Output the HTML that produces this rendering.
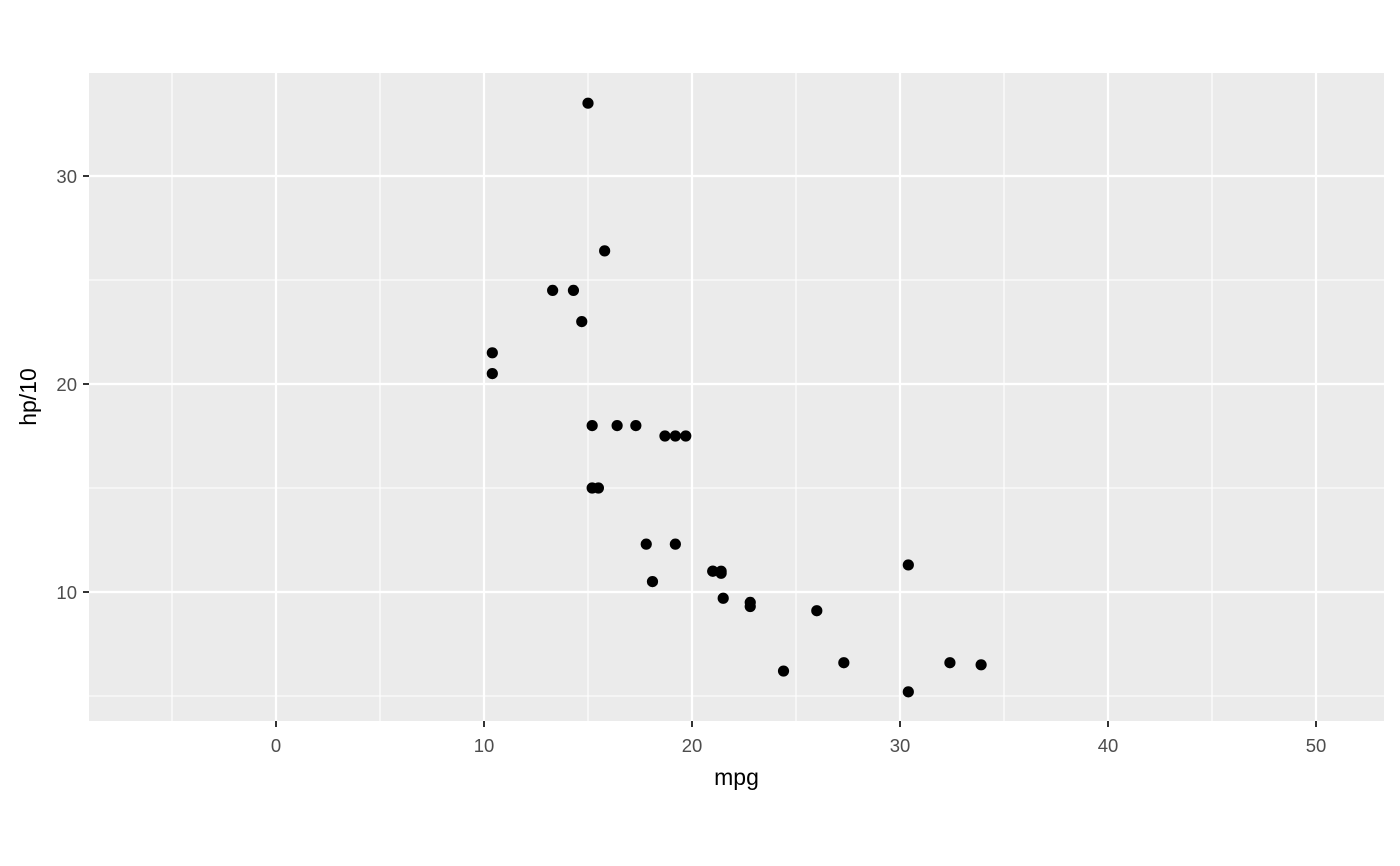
<!DOCTYPE html>
<html><head><meta charset="utf-8"><style>
body{margin:0;background:#fff;}
svg{display:block;font-family:"Liberation Sans",Arial,sans-serif;}
</style></head><body>
<svg id="chart" width="1400" height="866"></svg>
<script>
const mpg=[21.0,21.0,22.8,21.4,18.7,18.1,14.3,24.4,22.8,19.2,17.8,16.4,17.3,15.2,10.4,10.4,14.7,32.4,30.4,33.9,21.5,15.5,15.2,13.3,19.2,27.3,26.0,30.4,15.8,19.7,15.0,21.4];
const hp=[110,110,93,110,175,105,245,62,95,123,123,180,180,180,205,215,230,66,52,65,97,150,150,245,175,66,91,113,264,175,335,109];
const xTicks=[0,10,20,30,40,50];
const xMinor=[-5,5,15,25,35,45];
const yTicks=[10,20,30];
const yMinor=[5,15,25];
const NS="http://www.w3.org/2000/svg";
const svg=document.getElementById('chart');
const L=89,R=1384,T=73,B=721;
const sx=v=>276+v*20.8;
const sy=v=>592-(v-10)*20.8;
function el(t,a,p){const e=document.createElementNS(NS,t);for(const k in a)e.setAttribute(k,a[k]);(p||svg).appendChild(e);return e;}
const panel=el('rect',{x:L,y:T,width:R-L,height:B-T,fill:'#ebebeb'});


xMinor.forEach(v=>{const l=el('line',{x1:sx(v),x2:sx(v),y1:T,y2:B,stroke:'#fff','stroke-width':1.1});

});
yMinor.forEach(v=>{const l=el('line',{x1:L,x2:R,y1:sy(v),y2:sy(v),stroke:'#fff','stroke-width':1.1});

});
xTicks.forEach(v=>{const l=el('line',{x1:sx(v),x2:sx(v),y1:T,y2:B,stroke:'#fff','stroke-width':2.2});


const t=el('line',{x1:sx(v),x2:sx(v),y1:B,y2:B+6,stroke:'#333','stroke-width':2});


const tx=el('text',{x:sx(v),y:B+31,'text-anchor':'middle','font-size':18.5,fill:'#4d4d4d'});tx.textContent=v;

});
yTicks.forEach(v=>{const l=el('line',{x1:L,x2:R,y1:sy(v),y2:sy(v),stroke:'#fff','stroke-width':2.2});


const t=el('line',{x1:L-6,x2:L,y1:sy(v),y2:sy(v),stroke:'#333','stroke-width':2});


const tx=el('text',{x:L-12,y:sy(v)+7,'text-anchor':'end','font-size':18.5,fill:'#4d4d4d'});tx.textContent=v;

});
mpg.forEach((m,i)=>{const c=el('circle',{cx:sx(m),cy:sy(hp[i]/10),r:5.6,fill:'#000'});

});
const xt=el('text',{x:(L+R)/2,y:785,'text-anchor':'middle','font-size':23,fill:'#000'});xt.textContent='mpg';


const yt=el('text',{x:0,y:0,'text-anchor':'middle','font-size':23,fill:'#000',transform:'translate(36,397) rotate(-90)'});yt.textContent='hp/10';


</script>
</body></html>
